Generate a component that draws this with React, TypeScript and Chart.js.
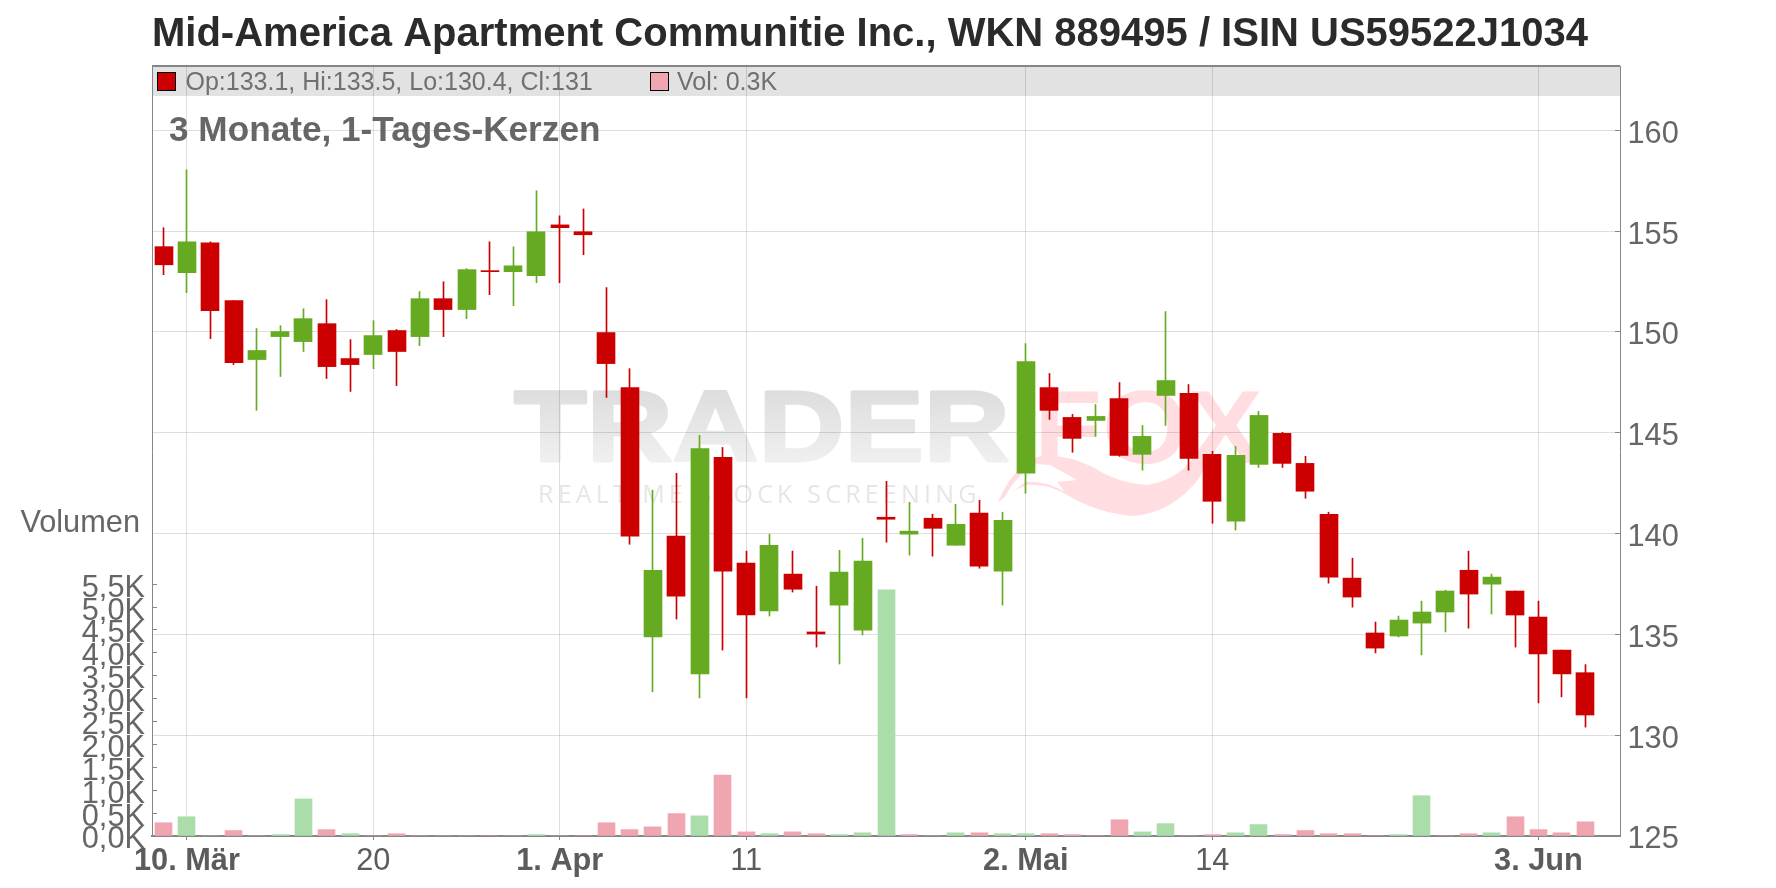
import React, { useEffect, useRef } from "react";
import { Chart, registerables } from "chart.js";

Chart.register(...registerables);

const titleText = "Mid-America Apartment Communitie Inc., WKN 889495 / ISIN US59522J1034";
const subTitleText = "3 Monate, 1-Tages-Kerzen";
const ohlcText = "Op:133.1, Hi:133.5, Lo:130.4, Cl:131";
const volText = "Vol: 0.3K";
const volAxisName = "Volumen";

// One entry per trading day; named days carry the axis label.
const dayLabels: Record<number, string> = {
  1: "10. Mär", 9: "20", 17: "1. Apr", 25: "11", 37: "2. Mai", 45: "14", 59: "3. Jun",
};

const opens = [
  154.23, 152.94, 154.42, 151.55, 148.63, 149.77, 149.52, 150.41, 148.68, 148.88,
  150.07, 149.77, 151.65, 151.11, 153.04, 152.99, 152.79, 155.31, 154.97, 149.97,
  147.24, 134.87, 139.87, 133.04, 143.78, 138.53, 136.16, 137.99, 135.12, 136.45,
  135.21, 140.81, 139.97, 140.76, 139.42, 141.01, 138.14, 142.99, 147.24, 145.76,
  145.61, 146.7, 143.93, 146.85, 146.95, 143.93, 140.61, 143.43, 144.97, 143.48,
  140.96, 137.79, 135.07, 134.92, 135.56, 136.11, 138.18, 137.49, 137.15, 135.86,
  134.22, 133.1,
];
const closes = [
  153.33, 154.47, 151.06, 148.48, 149.08, 150.02, 150.66, 148.28, 148.38, 149.82,
  149.03, 151.65, 151.11, 153.09, 152.99, 153.28, 154.97, 155.17, 154.82, 148.43,
  139.87, 138.18, 136.9, 144.22, 138.14, 135.96, 139.42, 137.24, 135.02, 138.09,
  138.63, 140.71, 140.12, 140.26, 140.46, 138.38, 140.66, 148.53, 146.11, 144.72,
  145.81, 143.88, 144.82, 147.59, 143.73, 141.6, 143.88, 145.86, 143.48, 142.1,
  137.84, 136.85, 134.32, 135.71, 136.11, 137.15, 137.0, 137.84, 135.96, 134.03,
  133.04, 131.0,
];
const highs = [
  155.17, 158.04, 154.47, 151.55, 150.17, 150.31, 151.15, 151.6, 149.62, 150.56,
  150.12, 152.0, 152.49, 153.14, 154.47, 154.22, 157.0, 155.76, 156.1, 152.2,
  148.18, 142.15, 142.99, 144.87, 144.27, 139.13, 139.97, 139.13, 137.39, 139.17,
  139.77, 142.59, 141.55, 140.96, 141.45, 141.65, 141.06, 149.42, 147.94, 145.91,
  146.4, 147.49, 145.36, 151.01, 147.39, 144.08, 144.32, 146.06, 145.02, 143.83,
  141.06, 138.78, 135.61, 135.91, 136.65, 137.19, 139.13, 137.99, 137.15, 136.65,
  134.22, 133.5,
];
const lows = [
  152.84, 151.95, 149.67, 148.38, 146.11, 147.79, 149.03, 147.69, 147.05, 148.18,
  147.34, 149.32, 149.77, 150.66, 151.85, 151.3, 152.44, 152.44, 153.83, 146.75,
  139.47, 132.15, 135.76, 131.85, 134.22, 131.85, 135.91, 137.1, 134.37, 133.53,
  134.97, 139.57, 138.93, 138.88, 139.42, 138.28, 136.45, 142.0, 145.66, 144.03,
  144.82, 143.83, 143.14, 145.36, 143.14, 140.51, 140.17, 143.28, 143.28, 141.75,
  137.54, 136.35, 134.08, 134.87, 133.98, 135.12, 135.31, 136.01, 134.37, 131.6,
  131.9, 130.4,
];
const volumes = [
  0.29, 0.42, 0, 0.12, 0, 0.03, 0.81, 0.14, 0.05, 0,
  0.05, 0, 0, 0, 0, 0, 0.03, 0, 0, 0.29,
  0.14, 0.2, 0.49, 0.44, 1.33, 0.09, 0.05, 0.09, 0.05, 0.03,
  0.07, 5.38, 0.03, 0, 0.07, 0.07, 0.05, 0.05, 0.05, 0.03,
  0, 0.355, 0.09, 0.27, 0, 0.03, 0.07, 0.25, 0.03, 0.12,
  0.05, 0.05, 0, 0.03, 0.88, 0, 0.05, 0.07, 0.42, 0.14,
  0.07, 0.31,
];
const volumeIsUp = [
  0, 1, 0, 0, 0, 1, 1, 0, 1, 0,
  0, 0, 0, 0, 0, 0, 1, 0, 0, 0,
  0, 0, 0, 1, 0, 0, 1, 0, 0, 1,
  1, 1, 0, 0, 1, 0, 1, 1, 0, 0,
  0, 0, 1, 1, 0, 0, 1, 1, 0, 0,
  0, 0, 0, 1, 1, 0, 0, 1, 0, 0,
  0, 0,
];
const volumeTickMax = 5.5;

const RED = "#cc0000";
const GREEN = "#66aa22";
const VOL_RED = "#efa6b0";
const VOL_GREEN = "#aaddaa";
const GRID = "rgba(0,0,0,0.125)";
const AXIS = "#868686";
const TEXT = "#666666";
const FONT = '"Liberation Sans", Arial, sans-serif';

const chrome = {
  id: "chrome",
  beforeDraw(chart: any) {
    const { ctx, chartArea: a } = chart;
    ctx.save();
    // legend strip
    ctx.fillStyle = "#e2e2e2";
    ctx.fillRect(a.left, a.top, a.right - a.left, 30);

    // watermark: word mark
    ctx.textBaseline = "alphabetic";
    ctx.textAlign = "left";
    ctx.save();
    ctx.translate(514, 461);
    ctx.scale(1.155, 0.98);
    const g = ctx.createLinearGradient(0, -76, 0, 2);
    g.addColorStop(0, "#dcdcdc");
    g.addColorStop(1, "#f0f0f0");
    ctx.font = `bold 103px ${FONT}`;
    ctx.fillStyle = g;
    ctx.strokeStyle = g;
    ctx.lineWidth = 3;
    ctx.lineJoin = "round";
    ctx.fillText("TRADER", 0, 0);
    ctx.strokeText("TRADER", 0, 0);
    ctx.restore();
    ctx.save();
    ctx.translate(1034, 463);
    ctx.scale(1.08, 1);
    ctx.font = `bold 103px ${FONT}`;
    ctx.fillStyle = "#ffdde1";
    ctx.fillText("FOX", 0, 0);
    ctx.restore();
    // watermark: tail
    ctx.fillStyle = "#ffdde1";
    ctx.beginPath();
    ctx.moveTo(998, 502);
    ctx.quadraticCurveTo(1013, 467, 1037, 457);
    ctx.quadraticCurveTo(1060, 452, 1093, 467);
    ctx.quadraticCurveTo(1117, 483, 1147, 485);
    ctx.quadraticCurveTo(1180, 480, 1200, 450);
    ctx.lineTo(1213, 442);
    ctx.lineTo(1200, 477);
    ctx.quadraticCurveTo(1173, 513, 1133, 516);
    ctx.quadraticCurveTo(1097, 513, 1067, 495);
    ctx.quadraticCurveTo(1047, 483, 1027, 485);
    ctx.quadraticCurveTo(1013, 490, 998, 502);
    ctx.closePath();
    ctx.fill();
    ctx.fillStyle = "#ffffff";
    ctx.beginPath();
    ctx.moveTo(1004, 499);
    ctx.quadraticCurveTo(1015, 475, 1037, 464);
    ctx.lineTo(1050, 465);
    ctx.lineTo(1077, 480);
    ctx.lineTo(1057, 482);
    ctx.lineTo(1065, 492);
    ctx.quadraticCurveTo(1045, 480, 1025, 482);
    ctx.closePath();
    ctx.fill();
    // watermark: strapline
    ctx.font = `25px "Open Sans", ${FONT}`;
    (ctx as any).letterSpacing = "4.2px";
    ctx.fillStyle = "#e6e6e6";
    ctx.fillText("REALTIME STOCK SCREENING", 538, 503);
    (ctx as any).letterSpacing = "0px";
    ctx.restore();
  },
  afterDatasetsUpdate(chart: any) {
    // snap wicks and bodies to whole pixels so they stay crisp
    chart.data.datasets.forEach((ds: any, di: number) => {
      chart.getDatasetMeta(di).data.forEach((el: any) => {
        if (ds.label === "wick") el.x = Math.floor(el.x) + 0.5;
        else if (ds.label === "body") el.x = Math.round(el.x);
        else el.x = Math.floor(el.x) + 0.5;
      });
    });
  },
  afterDatasetsDraw(chart: any) {
    const { ctx, chartArea: a } = chart;
    ctx.save();
    ctx.strokeStyle = AXIS;
    ctx.lineWidth = 2;
    ctx.beginPath();
    ctx.moveTo(a.left, a.top);
    ctx.lineTo(a.right, a.top);
    ctx.stroke();

    ctx.textBaseline = "alphabetic";
    ctx.textAlign = "left";
    // legend strip contents
    ctx.lineWidth = 1;
    ctx.strokeStyle = "#000000";
    ctx.fillStyle = RED;
    ctx.fillRect(157.5, 72.5, 18, 18);
    ctx.strokeRect(157.5, 72.5, 18, 18);
    ctx.fillStyle = VOL_RED;
    ctx.fillRect(650.5, 72.5, 18, 18);
    ctx.strokeRect(650.5, 72.5, 18, 18);
    ctx.font = `25px ${FONT}`;
    ctx.fillStyle = "#707070";
    ctx.fillText(ohlcText, 185.5, 90);
    ctx.fillText(volText, 677, 90);
    // period caption
    ctx.font = `bold 35.2px ${FONT}`;
    ctx.fillStyle = TEXT;
    ctx.fillText(subTitleText, 169, 141);
    // volume axis name
    ctx.font = `30.74px ${FONT}`;
    ctx.textAlign = "right";
    ctx.fillText(volAxisName, 140, 531.5);
    ctx.restore();
  },
};

export default function App() {
  const ref = useRef<HTMLCanvasElement | null>(null);
  useEffect(() => {
    if (!ref.current) return;
    const labels = [...opens.map((_, i) => dayLabels[i] ?? ""), ""];
    const chart = new Chart(ref.current, {
      type: "bar",
      data: {
        labels,
        datasets: [
          {
            label: "body",
            data: opens.map((o, i) => [o, closes[i]]) as any,
            backgroundColor: opens.map((o, i) => (closes[i] >= o ? GREEN : RED)),
            barThickness: 18,
            grouped: false,
            yAxisID: "y",
            order: 1,
          },
          {
            label: "wick",
            data: lows.map((l, i) => [l, highs[i]]) as any,
            backgroundColor: opens.map((o, i) => (closes[i] >= o ? GREEN : RED)),
            barThickness: 1,
            grouped: false,
            yAxisID: "y",
            order: 2,
          },
          {
            label: "vol",
            data: volumes,
            backgroundColor: volumeIsUp.map((u) => (u ? VOL_GREEN : VOL_RED)),
            barThickness: 17,
            grouped: false,
            yAxisID: "vol",
            order: 3,
          },
        ],
      },
      options: {
        responsive: false,
        animation: false,
        events: [],
        layout: { padding: 0 },
        plugins: {
          legend: { display: false },
          tooltip: { enabled: false },
          title: {
            display: true,
            text: titleText,
            align: "start",
            fullSize: false,
            color: "#2b2b2b",
            font: { family: FONT, size: 40, weight: "bold", lineHeight: 1.2 },
            padding: { top: 10.9, bottom: 7.1 },
          },
        },
        scales: {
          x: {
            type: "category",
            offset: true,
            grid: {
              offset: false,
              lineWidth: 1,
              color: (c: any) => (dayLabels[c.index] ? GRID : "transparent"),
              tickColor: (c: any) => (dayLabels[c.index] ? AXIS : "transparent"),
              tickLength: 4,
            },
            border: { display: true, color: AXIS, width: 2 },
            ticks: {
              autoSkip: false,
              maxRotation: 0,
              minRotation: 0,
              padding: 6.5,
              color: "#5c5c5c",
              font: (c: any) => ({
                family: FONT,
                size: 30.74,
                lineHeight: 1,
                weight: (dayLabels[c.index] ?? "").includes(".") ? "bold" : "normal",
              }),
              callback: (_: any, i: number) => dayLabels[i] ?? "",
            },
            afterFit(a: any) { a.height = 52; },
          },
          y: {
            type: "linear",
            position: "right",
            min: 125,
            max: 163.19,
            grid: { color: GRID, lineWidth: 1, tickColor: AXIS, tickLength: -5 },
            border: { display: true, color: AXIS, width: 1 },
            ticks: {
              stepSize: 5,
              includeBounds: false,
              autoSkip: false,
              padding: 12.5,
              labelOffset: 4,
              color: TEXT,
              font: { family: FONT, size: 30.74 },
            },
            afterFit(a: any) { a.width = 156; },
          },
          vol: {
            type: "linear",
            position: "left",
            min: 0,
            max: 16.82,
            grid: {
              drawOnChartArea: false,
              tickLength: -5,
              tickColor: (c: any) => (c.tick && c.tick.value <= volumeTickMax ? AXIS : "transparent"),
            },
            border: { display: true, color: AXIS, width: 1 },
            ticks: {
              stepSize: 0.5,
              includeBounds: false,
              autoSkip: false,
              padding: 12,
              labelOffset: 4,
              color: TEXT,
              font: { family: FONT, size: 30.74, lineHeight: 1 },
              callback: (v: any) => (v <= volumeTickMax ? Number(v).toFixed(1).replace(".", ",") + "K" : ""),
            },
            afterFit(a: any) { a.width = 152; },
          },
        },
      } as any,
      plugins: [chrome],
    });
    return () => chart.destroy();
  }, []);
  return (
    <div style={{ position: "absolute", left: 0, top: 0, width: 1776, height: 888, background: "#fff" }}>
      <canvas ref={ref} width={1776} height={888} style={{ display: "block", width: 1776, height: 888 }} />
    </div>
  );
}
